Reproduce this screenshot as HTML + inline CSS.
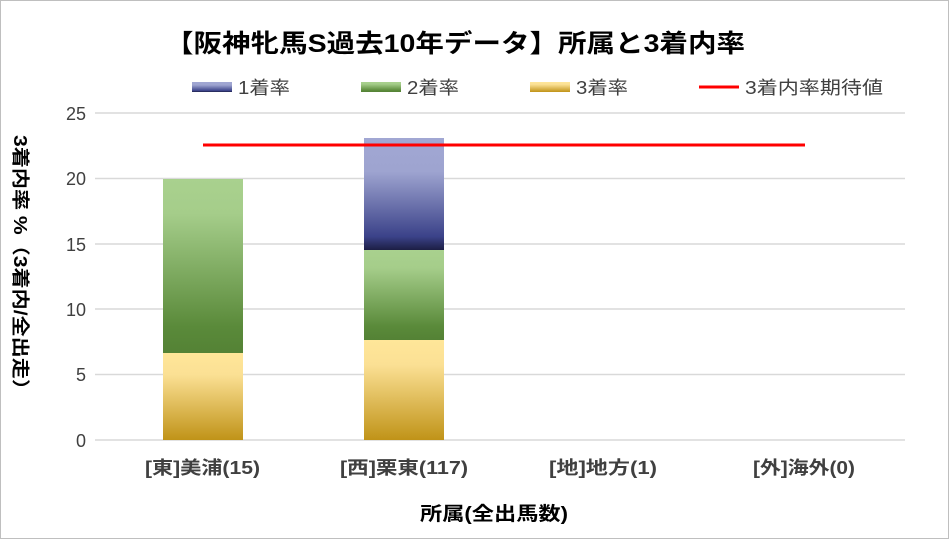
<!DOCTYPE html>
<html><head><meta charset="utf-8"><style>
body{margin:0;background:#fff}
svg text{font-family:"Liberation Sans","Noto Sans CJK JP",sans-serif}
</style></head><body>
<svg width="949" height="539" xmlns="http://www.w3.org/2000/svg">
<defs>
<linearGradient id="b" x1="0" y1="0" x2="0" y2="1"><stop offset="0" stop-color="#a1a7d3"/><stop offset="0.3" stop-color="#9ea4d0"/><stop offset="0.88" stop-color="#3b4289"/><stop offset="1" stop-color="#1c1e44"/></linearGradient>
<linearGradient id="g" x1="0" y1="0" x2="0" y2="1"><stop offset="0" stop-color="#a9d18e"/><stop offset="0.2" stop-color="#a5cd8a"/><stop offset="0.85" stop-color="#5a8a3a"/><stop offset="1" stop-color="#548235"/></linearGradient>
<linearGradient id="y" x1="0" y1="0" x2="0" y2="1"><stop offset="0" stop-color="#ffe699"/><stop offset="0.25" stop-color="#fbe094"/><stop offset="1" stop-color="#c09318"/></linearGradient>
</defs>
<rect x="0.5" y="0.5" width="948" height="538" fill="#fff" stroke="#bfbfbf"/>
<text x="165" y="52" font-size="25" font-weight="bold" textLength="580" lengthAdjust="spacingAndGlyphs" fill="#000">【阪神牝馬S過去10年データ】所属と3着内率</text>
<rect x="192" y="82" width="40" height="10" fill="url(#b)"/><text x="238" y="94" font-size="18" textLength="52" lengthAdjust="spacingAndGlyphs" fill="#404040">1着率</text>
<rect x="361" y="82" width="40" height="10" fill="url(#g)"/><text x="407" y="94" font-size="18" textLength="52" lengthAdjust="spacingAndGlyphs" fill="#404040">2着率</text>
<rect x="530" y="82" width="40" height="10" fill="url(#y)"/><text x="576" y="94" font-size="18" textLength="52" lengthAdjust="spacingAndGlyphs" fill="#404040">3着率</text>
<line x1="699" y1="87" x2="739" y2="87" stroke="#f00" stroke-width="3"/><text x="745" y="94" font-size="18" textLength="138" lengthAdjust="spacingAndGlyphs" fill="#404040">3着内率期待値</text>
<g stroke="#d9d9d9" stroke-width="1.5">
<line x1="95" y1="113" x2="905" y2="113"/><line x1="95" y1="178.5" x2="905" y2="178.5"/><line x1="95" y1="244" x2="905" y2="244"/><line x1="95" y1="309" x2="905" y2="309"/><line x1="95" y1="374.5" x2="905" y2="374.5"/><line x1="95" y1="440" x2="905" y2="440"/>
</g>
<g font-size="18" fill="#404040" text-anchor="end">
<text x="86" y="120">25</text><text x="86" y="185">20</text><text x="86" y="251">15</text><text x="86" y="316">10</text><text x="86" y="381">5</text><text x="86" y="447">0</text>
</g>
<rect x="163" y="353" width="80" height="87" fill="url(#y)"/>
<rect x="163" y="179" width="80" height="174" fill="url(#g)"/>
<rect x="364" y="340" width="80" height="100" fill="url(#y)"/>
<rect x="364" y="250" width="80" height="90" fill="url(#g)"/>
<rect x="364" y="138" width="80" height="112" fill="url(#b)"/>
<line x1="203" y1="145" x2="805" y2="145" stroke="#f00" stroke-width="3"/>
<g font-size="18" font-weight="bold" fill="#404040">
<text x="145" y="474" textLength="115" lengthAdjust="spacingAndGlyphs">[東]美浦(15)</text>
<text x="340" y="474" textLength="128" lengthAdjust="spacingAndGlyphs">[西]栗東(117)</text>
<text x="549" y="474" textLength="108" lengthAdjust="spacingAndGlyphs">[地]地方(1)</text>
<text x="753" y="474" textLength="102" lengthAdjust="spacingAndGlyphs">[外]海外(0)</text>
</g>
<text x="420" y="520" font-size="19" font-weight="bold" textLength="148" lengthAdjust="spacingAndGlyphs" fill="#000">所属(全出馬数)</text>
<text transform="translate(14,135) rotate(90)" font-size="18" font-weight="bold" textLength="265" lengthAdjust="spacingAndGlyphs" fill="#000">3着内率 %（3着内/全出走）</text>
</svg>
</body></html>
